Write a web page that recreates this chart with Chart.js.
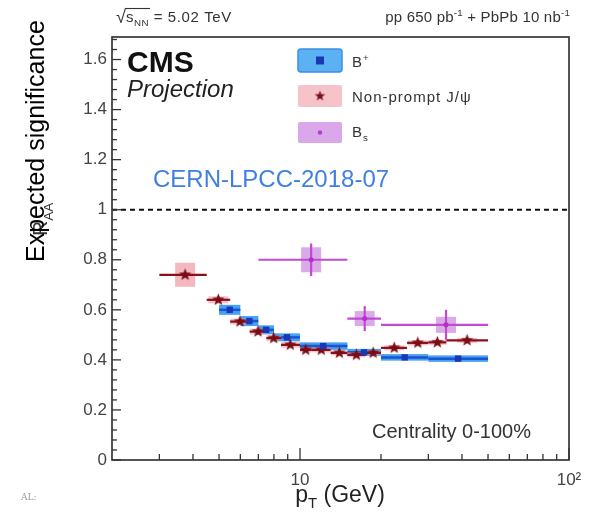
<!DOCTYPE html>
<html>
<head>
<meta charset="utf-8">
<script src="https://cdn.jsdelivr.net/npm/chart.js@4.4.0/dist/chart.umd.min.js"></script>
<style>
  html, body { margin: 0; padding: 0; background: #fff; }
  #wrap { width: 592px; height: 515px; position: relative; }
</style>
</head>
<body>
<div id="wrap"><canvas id="c" width="592" height="515"></canvas></div>
<script>
// B+ : bin edges, centres, RAA, stat and syst uncertainties
const bpLo   = [5, 6, 7, 8, 10, 15, 20, 30];
const bpHi   = [6, 7, 8, 10, 15, 20, 30, 50];
const bpPt   = [5.48, 6.48, 7.48, 8.94, 12.2, 17.3, 24.5, 38.7];
const bpRaa  = [0.60, 0.555, 0.52, 0.49, 0.455, 0.43, 0.41, 0.405];
const bpStat = [0.012, 0.012, 0.012, 0.01, 0.01, 0.01, 0.01, 0.01];
const bpSyst = [0.02, 0.02, 0.018, 0.016, 0.015, 0.014, 0.013, 0.013];

// Non-prompt J/psi
const jpLo   = [3, 4.5, 5.5, 6.5, 7.5, 8.5, 10, 11, 13, 15, 17.5, 20, 25, 30, 35];
const jpHi   = [4.5, 5.5, 6.5, 7.5, 8.5, 10, 11, 13, 15, 17.5, 20, 25, 30, 35, 50];
const jpPt   = [3.74, 4.97, 5.98, 6.98, 7.98, 9.2, 10.5, 12.0, 14.0, 16.2, 18.7, 22.4, 27.4, 32.4, 41.8];
const jpRaa  = [0.74, 0.64, 0.553, 0.513, 0.487, 0.46, 0.44, 0.44, 0.428, 0.42, 0.428, 0.448, 0.468, 0.47, 0.478];
const jpSyst = [0.048, 0.014, 0.012, 0.012, 0.011, 0.011, 0.01, 0.01, 0.01, 0.01, 0.01, 0.01, 0.01, 0.01, 0.01];

// Bs
const bsLo   = [7, 15, 20];
const bsHi   = [15, 20, 50];
const bsPt   = [11.0, 17.4, 34.9];
const bsRaa  = [0.80, 0.565, 0.54];
const bsStat = [0.065, 0.05, 0.06];
const bsSyst = [0.05, 0.03, 0.032];

// Axis ticks
const yTicks = [0, 0.2, 0.4, 0.6, 0.8, 1, 1.2, 1.4, 1.6];
const yMinorStep = 0.04;
const xTicks = [10, 100];
const xTickLabels = ['10', '10\u00b2'];
const xMinorTicks = [3, 4, 5, 6, 7, 8, 9, 20, 30, 40, 50, 60, 70, 80, 90];

const SANS = '"Liberation Sans", Arial, sans-serif';

// filled five-point star used as marker
function makeStar(r, color) {
  const c = document.createElement('canvas');
  const s = Math.ceil(r * 2 + 2);
  c.width = s; c.height = s;
  const g = c.getContext('2d');
  g.fillStyle = color;
  g.beginPath();
  for (let i = 0; i < 10; i++) {
    const rad = i % 2 === 0 ? r : r * 0.42;
    const a = -Math.PI / 2 + i * Math.PI / 5;
    const px = s / 2 + rad * Math.cos(a), py = s / 2 + rad * Math.sin(a);
    if (i === 0) g.moveTo(px, py); else g.lineTo(px, py);
  }
  g.closePath();
  g.fill();
  return c;
}
const starMarker = makeStar(6.5, '#7a0c14');
const starLegend = makeStar(5.5, '#7a0c14');

// text with sub/superscript pieces: parts = [{t, sub, sup}]
function fontFor(size, opts) {
  return `${opts.style || ''} ${opts.weight || ''} ${size}px ${SANS}`;
}
function drawRich(ctx, parts, x, y, size, opts = {}) {
  ctx.letterSpacing = (opts.spacing || 0) + 'px';
  let w = 0;
  for (const p of parts) {
    ctx.font = fontFor((p.sub || p.sup) ? size * 0.65 : size, opts);
    w += ctx.measureText(p.t).width;
  }
  let cx = opts.align === 'right' ? x - w : opts.align === 'center' ? x - w / 2 : x;
  ctx.textAlign = 'left';
  ctx.textBaseline = 'alphabetic';
  for (const p of parts) {
    ctx.font = fontFor((p.sub || p.sup) ? size * 0.65 : size, opts);
    const dy = p.sub ? size * 0.28 : p.sup ? -size * 0.42 : 0;
    ctx.fillText(p.t, cx, y + dy);
    cx += ctx.measureText(p.t).width;
  }
  ctx.letterSpacing = '0px';
  return w;
}

const uncertainties = {
  id: 'uncertainties',
  beforeDatasetsDraw(chart) {
    const { ctx, chartArea: a, scales: { x, y } } = chart;
    ctx.save();
    ctx.beginPath();
    ctx.rect(a.left, a.top, a.right - a.left, a.bottom - a.top);
    ctx.clip();

    // B+ : systematic boxes over the full bin, bin-width line
    bpPt.forEach((pt, i) => {
      const x0 = x.getPixelForValue(bpLo[i]), x1 = x.getPixelForValue(bpHi[i]);
      const yt = y.getPixelForValue(bpRaa[i] + bpSyst[i]), yb = y.getPixelForValue(bpRaa[i] - bpSyst[i]);
      ctx.fillStyle = 'rgba(52,150,240,0.9)';
      ctx.fillRect(x0, yt, x1 - x0, yb - yt);
    });
    bpPt.forEach((pt, i) => {
      const x0 = x.getPixelForValue(bpLo[i]), x1 = x.getPixelForValue(bpHi[i]);
      const yc = y.getPixelForValue(bpRaa[i]);
      ctx.strokeStyle = '#1a55d0';
      ctx.lineWidth = 2.5;
      ctx.beginPath(); ctx.moveTo(x0, yc); ctx.lineTo(x1, yc); ctx.stroke();
      const xc = x.getPixelForValue(pt);
      ctx.beginPath();
      ctx.moveTo(xc, y.getPixelForValue(bpRaa[i] + bpStat[i]));
      ctx.lineTo(xc, y.getPixelForValue(bpRaa[i] - bpStat[i]));
      ctx.stroke();
    });

    // Non-prompt J/psi : pink systematic boxes, dark red bin-width line
    jpPt.forEach((pt, i) => {
      const xc = x.getPixelForValue(pt);
      const x0 = Math.max(x.getPixelForValue(jpLo[i]), xc - 10), x1 = Math.min(x.getPixelForValue(jpHi[i]), xc + 10);
      const yt = y.getPixelForValue(jpRaa[i] + jpSyst[i]), yb = y.getPixelForValue(jpRaa[i] - jpSyst[i]);
      ctx.fillStyle = i === 0 ? 'rgba(240,160,172,0.75)' : 'rgba(240,150,165,0.6)';
      ctx.fillRect(x0, yt, x1 - x0, yb - yt);
    });
    jpPt.forEach((pt, i) => {
      const x0 = x.getPixelForValue(jpLo[i]), x1 = x.getPixelForValue(jpHi[i]);
      const yc = y.getPixelForValue(jpRaa[i]);
      ctx.strokeStyle = '#8a1018';
      ctx.lineWidth = 2.2;
      ctx.beginPath(); ctx.moveTo(x0, yc); ctx.lineTo(x1, yc); ctx.stroke();
    });

    // Bs : violet systematic boxes, bin-width line and stat bar
    bsPt.forEach((pt, i) => {
      const xc = x.getPixelForValue(pt);
      const yt = y.getPixelForValue(bsRaa[i] + bsSyst[i]), yb = y.getPixelForValue(bsRaa[i] - bsSyst[i]);
      ctx.fillStyle = 'rgba(210,150,228,0.8)';
      ctx.fillRect(xc - 10, yt, 20, yb - yt);
    });
    bsPt.forEach((pt, i) => {
      const x0 = x.getPixelForValue(bsLo[i]), x1 = x.getPixelForValue(bsHi[i]);
      const xc = x.getPixelForValue(pt);
      const yc = y.getPixelForValue(bsRaa[i]);
      ctx.strokeStyle = '#c04ad2';
      ctx.lineWidth = 2.2;
      ctx.beginPath(); ctx.moveTo(x0, yc); ctx.lineTo(x1, yc); ctx.stroke();
      ctx.beginPath();
      ctx.moveTo(xc, y.getPixelForValue(bsRaa[i] + bsStat[i]));
      ctx.lineTo(xc, y.getPixelForValue(bsRaa[i] - bsStat[i]));
      ctx.stroke();
    });
    ctx.restore();
  },
  afterDraw(chart) {
    const { ctx, chartArea: a, scales: { x, y } } = chart;
    ctx.save();

    // unity reference line
    const y1 = y.getPixelForValue(1);
    ctx.strokeStyle = '#111';
    ctx.lineWidth = 2;
    ctx.setLineDash([5, 4]);
    ctx.beginPath(); ctx.moveTo(a.left, y1); ctx.lineTo(a.right, y1); ctx.stroke();
    ctx.setLineDash([]);

    // frame
    ctx.strokeStyle = '#2a2a2a';
    ctx.lineWidth = 1.6;
    ctx.strokeRect(a.left, a.top, a.right - a.left, a.bottom - a.top);

    // y ticks (inward)
    ctx.lineWidth = 1.3;
    ctx.strokeStyle = '#333';
    for (let k = 0; k * yMinorStep <= y.max + 1e-9; k++) {
      const py = y.getPixelForValue(k * yMinorStep);
      const major = k % 5 === 0;
      ctx.beginPath(); ctx.moveTo(a.left, py); ctx.lineTo(a.left + (major ? 9 : 5), py); ctx.stroke();
    }
    // x ticks (inward)
    xMinorTicks.forEach(v => {
      const px = x.getPixelForValue(v);
      ctx.beginPath(); ctx.moveTo(px, a.bottom); ctx.lineTo(px, a.bottom - 6); ctx.stroke();
    });
    xTicks.forEach(v => {
      const px = x.getPixelForValue(v);
      ctx.beginPath(); ctx.moveTo(px, a.bottom); ctx.lineTo(px, a.bottom - 12); ctx.stroke();
    });

    // axis titles
    ctx.fillStyle = '#222';
    drawRich(ctx, [{ t: 'p' }, { t: 'T', sub: true }, { t: ' (GeV)' }], 340, 502, 23, { align: 'center' });

    ctx.save();
    ctx.translate(47, 236);
    ctx.rotate(-Math.PI / 2);
    ctx.fillStyle = '#333';
    drawRich(ctx, [{ t: 'R' }, { t: 'AA', sub: true }], 0, 0, 21);
    ctx.restore();

    ctx.save();
    ctx.translate(44, 262);
    ctx.rotate(-Math.PI / 2);
    ctx.fillStyle = '#000';
    ctx.font = `25px ${SANS}`;
    ctx.textAlign = 'left';
    ctx.textBaseline = 'alphabetic';
    ctx.fillText('Expected significance', 0, 0);
    ctx.restore();

    // header
    ctx.fillStyle = '#333';
    ctx.strokeStyle = '#333';
    ctx.font = `18px ${SANS}`;
    ctx.textBaseline = 'alphabetic';
    ctx.textAlign = 'left';
    ctx.fillText('\u221a', 116, 23);
    const hx = 116 + ctx.measureText('\u221a').width;
    const sw = drawRich(ctx, [{ t: 's' }, { t: 'NN', sub: true }], hx, 22, 15, { spacing: 0.5 });
    ctx.lineWidth = 1.1;
    ctx.beginPath(); ctx.moveTo(hx - 1, 8.5); ctx.lineTo(hx + sw + 1, 8.5); ctx.stroke();
    drawRich(ctx, [{ t: ' = 5.02 TeV' }], hx + sw, 22, 15, { spacing: 0.6 });
    drawRich(ctx, [{ t: 'pp 650 pb' }, { t: '-1', sup: true }, { t: ' + PbPb 10 nb' }, { t: '-1', sup: true }], 570, 22, 15, { align: 'right', spacing: 0.2 });

    // experiment label
    ctx.fillStyle = '#111';
    ctx.font = `bold 30px ${SANS}`;
    ctx.fillText('CMS', 127, 72);
    ctx.fillStyle = '#222';
    ctx.font = `italic 24px ${SANS}`;
    ctx.fillText('Projection', 127, 97);

    ctx.fillStyle = '#3f7fe4';
    ctx.font = `24px ${SANS}`;
    ctx.fillText('CERN-LPCC-2018-07', 153, 187);

    ctx.fillStyle = '#333';
    ctx.font = `20px ${SANS}`;
    ctx.fillText('Centrality 0-100%', 372, 438);

    ctx.fillStyle = '#9a9a9a';
    ctx.font = '9px "DejaVu Serif", serif';
    ctx.fillText('AL:', 21, 500);

    // legend
    const rr = (x0, y0, w, h, r) => {
      ctx.beginPath();
      ctx.moveTo(x0 + r, y0); ctx.lineTo(x0 + w - r, y0); ctx.quadraticCurveTo(x0 + w, y0, x0 + w, y0 + r);
      ctx.lineTo(x0 + w, y0 + h - r); ctx.quadraticCurveTo(x0 + w, y0 + h, x0 + w - r, y0 + h);
      ctx.lineTo(x0 + r, y0 + h); ctx.quadraticCurveTo(x0, y0 + h, x0, y0 + h - r);
      ctx.lineTo(x0, y0 + r); ctx.quadraticCurveTo(x0, y0, x0 + r, y0); ctx.closePath();
    };
    const lx = 298, lw = 44;
    rr(lx, 49, lw, 23, 3);
    ctx.fillStyle = '#5cb0f4'; ctx.fill();
    ctx.strokeStyle = '#3a8fe2'; ctx.lineWidth = 1.5; ctx.stroke();
    ctx.fillStyle = '#1838b8';
    ctx.fillRect(lx + lw / 2 - 4, 60.5 - 4, 8, 8);

    rr(lx, 85, lw, 22, 2);
    ctx.fillStyle = '#f6c3cb'; ctx.fill();
    ctx.drawImage(starLegend, lx + lw / 2 - starLegend.width / 2, 96 - starLegend.height / 2);

    rr(lx, 122, lw, 21, 2);
    ctx.fillStyle = '#dca6ea'; ctx.fill();
    ctx.fillStyle = '#b040c8';
    ctx.beginPath(); ctx.arc(lx + lw / 2, 132.5, 2.2, 0, Math.PI * 2); ctx.fill();

    ctx.fillStyle = '#333';
    drawRich(ctx, [{ t: 'B' }, { t: '+', sup: true }], 352, 67, 15, { spacing: 1 });
    drawRich(ctx, [{ t: 'Non-prompt J/\u03c8' }], 352, 102, 15, { spacing: 1 });
    drawRich(ctx, [{ t: 'B' }, { t: 's', sub: true }], 352, 137, 15, { spacing: 1 });

    ctx.restore();
  }
};

const toPoints = (xs, ys) => xs.map((v, i) => ({ x: v, y: ys[i] }));

new Chart(document.getElementById('c'), {
  type: 'scatter',
  data: {
    datasets: [
      { label: 'B+', data: toPoints(bpPt, bpRaa), pointStyle: 'rect', pointRadius: 4.5,
        backgroundColor: '#1838b8', borderColor: '#1838b8', borderWidth: 0 },
      { label: 'Non-prompt J/psi', data: toPoints(jpPt, jpRaa), pointStyle: starMarker },
      { label: 'Bs', data: toPoints(bsPt, bsRaa), pointStyle: 'circle', pointRadius: 2.5,
        backgroundColor: '#b030c8', borderColor: '#b030c8', borderWidth: 0 }
    ]
  },
  options: {
    responsive: false,
    animation: false,
    devicePixelRatio: 1,
    layout: { padding: { left: 0, right: 23, top: 37, bottom: 0 } },
    plugins: { legend: { display: false }, tooltip: { enabled: false } },
    scales: {
      x: {
        type: 'logarithmic', min: 2, max: 100,
        grid: { display: false, drawTicks: false },
        border: { display: false },
        afterBuildTicks: s => { s.ticks = xTicks.map(v => ({ value: v })); },
        afterFit: s => { s.height = 55; },
        ticks: {
          callback: (v, i) => xTickLabels[i],
          autoSkip: false, maxRotation: 0, padding: 10,
          color: '#444', font: { family: SANS, size: 17 }
        }
      },
      y: {
        min: 0, max: 1.69,
        grid: { display: false, drawTicks: false },
        border: { display: false },
        afterBuildTicks: s => { s.ticks = yTicks.map(v => ({ value: v })); },
        afterFit: s => { s.width = 112; },
        ticks: {
          callback: v => String(Math.round(v * 10) / 10),
          padding: 5,
          color: '#444', font: { family: SANS, size: 17 }
        }
      }
    }
  },
  plugins: [uncertainties]
});
</script>
</body>
</html>
